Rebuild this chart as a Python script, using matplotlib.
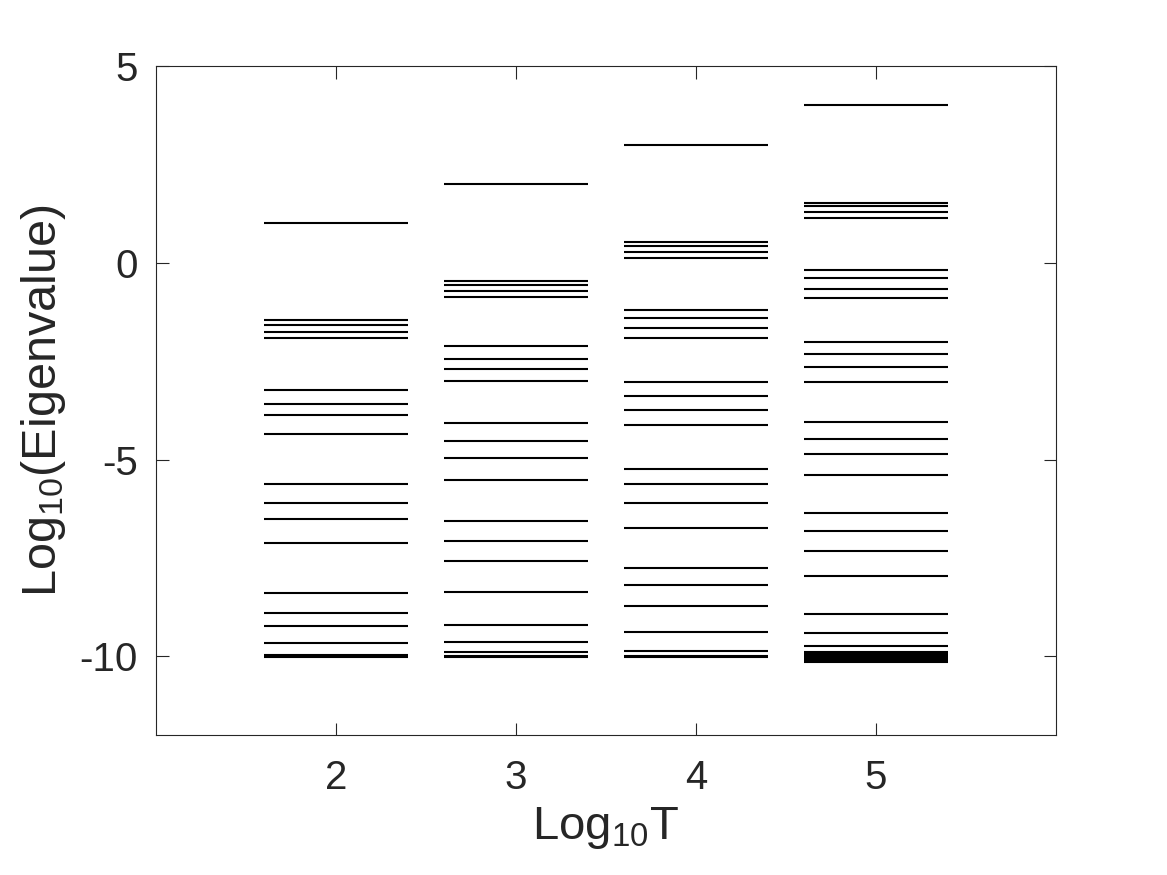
import matplotlib
matplotlib.use("Agg")
import matplotlib.pyplot as plt

# log10 of eigenvalues for each log10(T)
log_T = [2, 3, 4, 5]
eig_T2 = [1.0, -1.46, -1.58, -1.75, -1.92, -3.23, -3.60, -3.87, -4.34,
          -5.62, -6.11, -6.52, -7.12, -8.40, -8.89, -9.23, -9.65,
          -9.97, -10.0, -10.03]
eig_T3 = [2.0, -0.47, -0.56, -0.72, -0.87, -2.11, -2.44, -2.71, -3.00,
          -4.06, -4.53, -4.96, -5.51, -6.56, -7.06, -7.58, -8.36,
          -9.21, -9.63, -9.89, -9.98, -10.02]
eig_T4 = [3.0, 0.52, 0.42, 0.28, 0.13, -1.19, -1.40, -1.67, -1.91,
          -3.02, -3.38, -3.74, -4.12, -5.23, -5.63, -6.10, -6.73,
          -7.75, -8.18, -8.72, -9.38, -9.87, -9.98, -10.02]
eig_T5 = [4.0, 1.52, 1.43, 1.29, 1.14, -0.19, -0.39, -0.66, -0.89,
          -2.01, -2.32, -2.65, -3.02, -4.05, -4.47, -4.87, -5.40,
          -6.36, -6.81, -7.33, -7.95, -8.92, -9.40, -9.73,
          -9.89, -9.94, -9.98, -10.02, -10.06, -10.10, -10.14]
eigs = [eig_T2, eig_T3, eig_T4, eig_T5]

plt.rcParams['font.family'] = ['Liberation Sans', 'DejaVu Sans']
plt.rcParams['mathtext.default'] = 'regular'
txt = '#262626'

fig = plt.figure(figsize=(11.67, 8.75), dpi=100)
ax = fig.add_axes([0.1337, 0.16, 0.7712, 0.7646])

half = 0.4
for t, ev in zip(log_T, eigs):
    ax.hlines(ev, t - half, t + half, colors='black', linewidth=1.5)

ax.set_xlim(1, 6)
ax.set_ylim(-12, 5)
ax.set_xticks(log_T)
ax.set_yticks([-10, -5, 0, 5])
ax.set_yticklabels(['-10', '-5', '0', '5'])
ax.tick_params(direction='in', length=9, width=0.8, top=True, right=True,
               labelsize=29, colors=txt)
ax.tick_params(axis='x', pad=17)
ax.tick_params(axis='y', pad=13)
for s in ax.spines.values():
    s.set_color(txt)
    s.set_linewidth(0.8)

ax.set_xlabel('Log$_{10}$T', fontsize=34, color=txt, labelpad=6)
ax.set_ylabel('Log$_{10}$(Eigenvalue)', fontsize=35, color=txt, labelpad=8)

fig.savefig('out.png', dpi=100)
